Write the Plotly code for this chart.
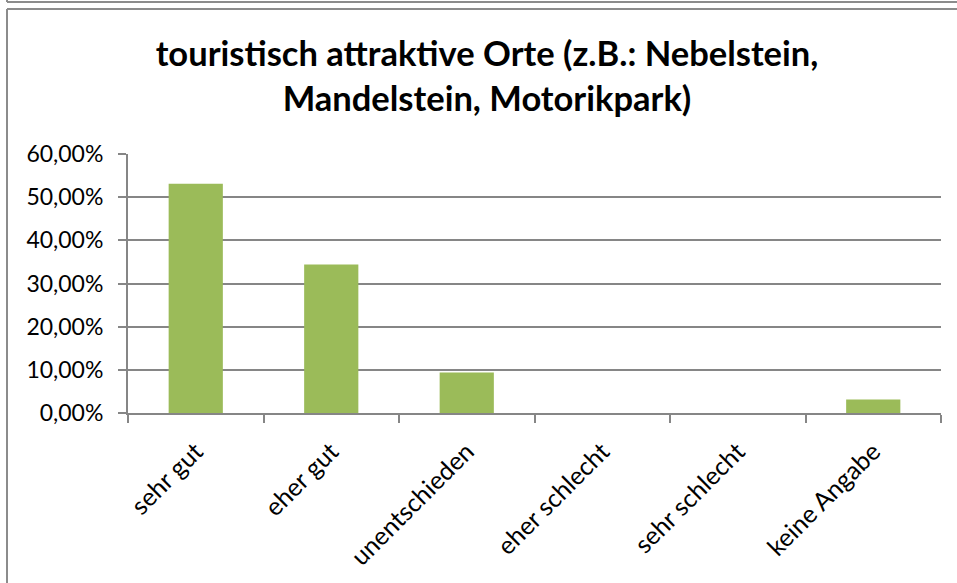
import plotly.graph_objects as go

categories = ["sehr gut", "eher gut", "unentschieden", "eher schlecht", "sehr schlecht", "keine Angabe"]
values = [0.53125, 0.34375, 0.09375, 0.0, 0.0, 0.03125]
tick_vals = [0, 0.1, 0.2, 0.3, 0.4, 0.5, 0.6]
tick_text = ["0,00%", "10,00%", "20,00%", "30,00%", "40,00%", "50,00%", "60,00%"]
title_text = "touristisch attraktive Orte (z.B.: Nebelstein,<br>Mandelstein, Motorikpark)"

W, H = 957, 583
L, R, T, B = 128, 941, 154, 413  # plot area pixel box

def px(x):
    return (x - L) / (R - L)

def py(y):
    return (B - y) / (B - T)

FONT = "Lato"
GRID = "#868686"

fig = go.Figure()
fig.add_trace(go.Bar(x=categories, y=values, marker=dict(color="#9BBB59", line=dict(width=0)), width=0.4,
                     hoverinfo="skip"))

shapes = []
frame = dict(color="#8c8c8c", width=2)
# previous frame bottom edge and left edge
shapes.append(dict(type="line", xref="paper", yref="paper", x0=px(7), x1=px(960), y0=py(2), y1=py(2), line=frame))
shapes.append(dict(type="line", xref="paper", yref="paper", x0=px(7), x1=px(7), y0=py(-5), y1=py(2), line=frame))
# chart frame
shapes.append(dict(type="line", xref="paper", yref="paper", x0=px(7), x1=px(960), y0=py(9), y1=py(9), line=frame))
shapes.append(dict(type="line", xref="paper", yref="paper", x0=px(7), x1=px(7), y0=py(9), y1=py(590), line=frame))

fig.update_layout(
    width=W, height=H,
    margin=dict(l=L, r=W - R, t=T, b=H - B, autoexpand=False),
    paper_bgcolor="white", plot_bgcolor="white",
    showlegend=False,
    bargap=0.6,
    shapes=shapes,
    title=dict(text=title_text, x=px(487), xref="paper", xanchor="center", y=1 - 66 / H, yanchor="middle",
               font=dict(family=FONT, size=34.5, color="black", weight="bold")),
    font=dict(family=FONT, color="black"),
)
fig.update_xaxes(
    type="category", tickangle=-45, tickfont=dict(size=25, family=FONT),
    showline=True, linecolor=GRID, linewidth=2,
    ticks="outside", ticklen=8, tickcolor=GRID, tickwidth=2, tickson="boundaries",
    ticklabelstandoff=12,
    showgrid=False, range=[-0.5, 5.5],
)
fig.update_yaxes(
    range=[0, 0.6], tickvals=tick_vals, ticktext=tick_text, tickfont=dict(size=23, family=FONT),
    showline=True, linecolor=GRID, linewidth=2,
    ticks="outside", ticklen=8, tickcolor=GRID, tickwidth=2,
    ticklabelstandoff=10,
    showgrid=True, gridcolor=GRID, gridwidth=1.5, zeroline=False,
)
fig.write_html("out.html", config={"displayModeBar": False},
               post_script="document.body.style.margin='0';")
